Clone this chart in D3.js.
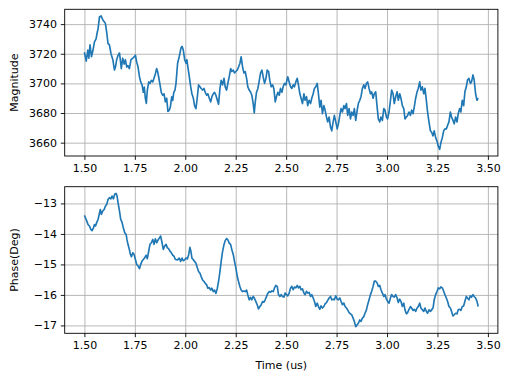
<!DOCTYPE html>
<html>
<head>
<meta charset="utf-8">
<script src="https://cdn.jsdelivr.net/npm/d3@7"></script>
<style>
  body { margin: 0; background: #fff; }
  svg { display: block; font-family: "DejaVu Sans", sans-serif; }
</style>
</head>
<body>
<svg width="520" height="378"></svg>
<script>
// values
const timeMagEarly = [1.500,1.509,1.517,1.522,1.528,1.535,1.542,1.550,1.558,1.563,1.568,1.575,1.583,1.591,1.599,1.604,1.611,1.617,1.624,1.632,1.641,1.649,1.654,1.660,1.667,1.674,1.678,1.683,1.690,1.697,1.703,1.710,1.716,1.723,1.731,1.740,1.748,1.753,1.759,1.766,1.773,1.779,1.786,1.792,1.797,1.802,1.807,1.812,1.819,1.825,1.832,1.839,1.845,1.852,1.858,1.863,1.868,1.875,1.881,1.888,1.895,1.901,1.908,1.914,1.921,1.926,1.933,1.938,1.943,1.949,1.954,
  1.962,1.970,1.979,1.984,1.990,1.997,2.004,2.008,2.013,2.020,2.027,2.033,2.040,2.046,2.053,2.060,2.066,2.073,2.079,2.086,2.093,2.099,2.106,2.112,2.119,2.126,2.132,2.139,2.145,2.152,2.159,2.165,2.172,2.178,2.185,2.192,2.198,2.205,2.211,2.218,2.225,2.231,2.238,2.244,2.251,2.258,2.264,2.271,2.277,2.284,2.291,2.297,2.304,2.310,2.317,2.324,2.330,2.337,2.342,2.347,2.353,2.360,2.367,2.373,2.380,2.386,2.393,2.400,2.406,2.413,2.419,2.426,2.433,2.439,2.446,2.452,2.459,2.466,2.472,2.479,2.485,2.492,2.499];

const timePhaseEarly = [1.500,1.505,1.512,1.518,1.525,1.532,1.538,1.545,1.550,1.555,1.561,1.568,1.575,1.579,1.584,1.591,1.598,1.604,1.611,1.617,1.624,1.631,1.637,1.644,1.650,1.657,1.662,1.667,1.674,1.680,1.687,1.693,1.700,1.707,1.711,1.716,1.723,1.728,1.733,1.740,1.746,1.753,1.759,1.766,1.773,1.779,1.786,1.792,1.799,1.806,1.812,1.819,1.825,1.832,1.839,1.845,1.852,1.858,1.865,1.872,1.878,1.885,1.891,1.898,1.905,1.911,1.918,1.924,1.931,1.938,1.944,1.951,
  1.962,1.970,1.977,1.984,1.990,1.997,2.004,2.010,2.017,2.023,2.028,2.033,2.040,2.046,2.053,2.060,2.066,2.073,2.079,2.086,2.093,2.099,2.106,2.112,2.119,2.126,2.132,2.139,2.145,2.152,2.159,2.165,2.172,2.178,2.185,2.192,2.198,2.205,2.211,2.218,2.225,2.231,2.238,2.244,2.251,2.258,2.264,2.271,2.277,2.284,2.291,2.297,2.304,2.310,2.317,2.324,2.330,2.337,2.343,2.350,2.357,2.363,2.370,2.376,2.383,2.390,2.396,2.403,2.409,2.416,2.423,2.429,2.436,2.442,
  2.449,2.456,2.462,2.469,2.475,2.482,2.489,2.495];

// shared sample times for the second half of both traces
const timeLate1 = [2.502,2.508,2.515,2.522,2.528,2.535,2.541,2.548,2.555,2.561,2.568,2.574,2.581,2.588,2.594,2.601,2.607,2.614,2.621,2.627,2.634,2.640,2.647,2.654,2.660,2.667,2.673,2.680,2.687,2.693,2.700,2.706,2.713,2.720,2.726,2.733,2.739,2.746,2.753,2.759,2.766,2.772,2.779,2.786,2.792,2.799,2.805,2.812,2.819,2.825,2.832,2.838,2.845,2.852,2.858,2.865,2.871,2.878,2.885,2.891,2.898,2.904,2.911,2.918,2.924,2.931,2.937];
const timeLate2 = [2.944,2.951,2.957,2.964,2.970,2.977,2.984,2.990,2.997,3.003,3.010,3.017,3.023,3.030,3.036,3.043,3.050,3.056,3.063,3.069,3.076,3.083,3.089,3.096,3.102,3.109,3.116,3.122,3.129,3.135,3.142,3.149,3.155,3.162,3.168,3.175,3.182,3.188,3.195,3.201,3.208,3.215,3.221,3.228,3.234,3.241,3.248,3.254,3.261,3.267,3.274,3.281,3.287,3.294,3.300,3.307,3.314,3.320,3.327,3.333,3.340,3.347,3.353,3.360,3.366,3.373,3.380,3.386,3.393,3.399,3.406,3.413,3.419,3.426,3.432,3.439,3.446,3.452];

const magnitude = [3721,3715,3722.5,3717,3726,3718,3722,3728,3730,3734,3737,3745,3745.5,3743,3741.5,3740.5,3734,3727,3726,3720,3716,3709,3711,3716,3719,3720.5,3716,3710,3717,3713,3716,3711,3712,3710,3716,3717,3718,3719,3714.5,3711,3704.5,3701,3699,3694,3697.5,3690,3686.5,3695.5,3701,3700,3702,3701,3703.5,3706.5,3710,3708,3704.5,3699,3694,3692,3693,3687.5,3690,3681,3682,3684,3691,3688.5,3694,3695.5,3700,
  3713.6,3718,3724,3725,3722.7,3716,3713.6,3716,3711,3704.5,3697.7,3693,3690,3685,3683,3691,3699,3697.7,3696.6,3695.5,3696.6,3694,3692,3693,3690,3687.5,3691,3693,3694,3692,3688.6,3686,3696.6,3702,3699,3703.4,3697.7,3695.5,3700,3704.5,3710,3708,3709,3707,3708,3709,3711,3713.6,3718,3711,3707,3708,3703.4,3697.7,3695.5,3694,3692,3686,3680,3687.5,3694,3696.6,3702,3707,3709,3704.5,3700,3703.4,3709,3708,3702,3697.7,3699,3696.6,3687.5,3691,3694,3692,3696.6,3694,3697.7,3700,3699,
  3701,3704.5,3701,3697.7,3696.6,3699,3697.7,3701,3703.4,3699,3693,3690,3686.4,3693,3688.6,3691,3685,3688.6,3686.4,3690,3693,3696.6,3697.7,3700,3693,3684,3688.6,3679.6,3685,3682,3677.3,3674,3677.3,3670.5,3668,3674,3678.4,3674,3669.3,3672.7,3678.4,3683,3680.7,3685,3683,3686.4,3678.4,3683,3676,3680.7,3678.4,3683,3675,3682,3686.4,3688.6,3691,3696.6,3699,3696.6,3700,3701,3696.6,3693,3694.3,3690,3693,
  3694.3,3684,3676,3674,3677.3,3675,3683,3682,3677.3,3676,3680.7,3688.6,3695.5,3693,3686.4,3691,3694.3,3688.6,3693,3690,3685,3683,3676,3677.3,3678.4,3680.7,3678.4,3682,3679.6,3684,3690,3694.3,3696.6,3701,3695.5,3697.7,3693,3696.6,3688.6,3680.7,3674,3668,3667,3664.6,3668,3663.4,3661,3657.7,3655.5,3660,3663.4,3668,3669.3,3669.3,3671.6,3674,3680.7,3677.3,3675,3672.7,3677.3,3674,3679.6,3683,3680.7,3688.6,3685,3694.3,3697.7,3702.3,3703.4,3700,3701,3705.7,3702.3,3693,3688.6,3690];

const phase = [-13.39,-13.47,-13.58,-13.69,-13.74,-13.85,-13.89,-13.80,-13.69,-13.74,-13.63,-13.52,-13.31,-13.20,-13.36,-13.25,-13.20,-13.09,-13.03,-12.87,-12.81,-12.85,-12.76,-12.85,-12.70,-12.67,-12.76,-12.98,-13.25,-13.52,-13.63,-13.80,-13.96,-14.02,-14.18,-14.34,-14.51,-14.67,-14.75,-14.62,-14.67,-14.84,-15.00,-15.05,-15.14,-15.00,-14.89,-14.84,-14.78,-14.70,-14.81,-14.56,-14.34,-14.29,-14.18,-14.34,-14.16,-14.29,-14.20,-14.13,-14.07,-14.29,-14.51,-14.40,-14.34,-14.45,-14.49,-14.56,-14.62,-14.70,-14.73,-14.84,
  -14.85,-14.79,-14.90,-14.79,-14.88,-14.85,-14.79,-14.82,-14.68,-14.44,-14.57,-14.79,-14.85,-14.90,-14.96,-15.12,-15.23,-15.29,-15.40,-15.51,-15.56,-15.62,-15.67,-15.78,-15.76,-15.84,-15.78,-15.89,-15.84,-15.95,-15.78,-15.56,-15.23,-14.90,-14.57,-14.35,-14.22,-14.15,-14.19,-14.30,-14.35,-14.52,-14.68,-14.90,-15.12,-15.40,-15.56,-15.73,-15.84,-15.89,-15.87,-15.89,-15.84,-16.00,-16.16,-16.08,-16.16,-16.05,-16.11,-16.22,-16.33,-16.46,-16.38,-16.33,-16.22,-16.24,-16.16,-16.05,-15.95,-15.89,-15.91,-15.87,-15.89,-15.78,
  -15.69,-15.72,-15.99,-16.05,-15.99,-16.05,-16.07,-15.94,-15.99,-16.03,-15.94,-15.77,-15.72,-15.83,-15.74,-15.77,-15.69,-15.77,-15.72,-15.83,-15.80,-15.94,-15.99,-15.88,-15.94,-15.92,-16.05,-15.99,-16.10,-16.21,-16.38,-16.27,-16.38,-16.47,-16.36,-16.43,-16.38,-16.29,-16.25,-16.18,-16.10,-16.05,-16.16,-16.14,-16.16,-16.03,-16.14,-16.16,-16.10,-16.21,-16.32,-16.27,-16.38,-16.43,-16.49,-16.58,-16.62,-16.65,-16.76,-16.87,-17.04,-16.98,-16.93,-16.82,-16.87,-16.76,-16.71,-16.60,-16.49,-16.32,-16.16,-15.99,-15.88,-15.72,-15.55,
  -15.55,-15.61,-15.72,-15.69,-15.83,-15.94,-16.05,-15.99,-16.14,-16.21,-16.27,-16.10,-15.99,-16.05,-16.07,-15.99,-16.10,-16.25,-16.14,-16.21,-16.38,-16.27,-16.49,-16.62,-16.58,-16.47,-16.38,-16.43,-16.51,-16.47,-16.54,-16.43,-16.38,-16.27,-16.43,-16.49,-16.54,-16.43,-16.54,-16.60,-16.49,-16.54,-16.49,-16.43,-16.16,-15.99,-15.88,-15.77,-15.80,-15.74,-15.77,-15.88,-15.99,-16.10,-16.21,-16.38,-16.43,-16.54,-16.69,-16.65,-16.60,-16.62,-16.49,-16.47,-16.51,-16.38,-16.36,-16.21,-16.05,-16.10,-16.16,-16.03,-16.07,-15.99,-16.05,-16.10,-16.21,-16.38];

const timeTicks = [1.5, 1.75, 2.0, 2.25, 2.5, 2.75, 3.0, 3.25, 3.5];
const magTicks = [3660, 3680, 3700, 3720, 3740];
const phaseTicks = [-17, -16, -15, -14, -13];

const timeMag = timeMagEarly.concat(timeLate1, timeLate2);
const timePhase = timePhaseEarly.concat(timeLate1, timeLate2);

const svg = d3.select("svg");
const left = 64.7, right = 497.9;

// matplotlib style 5% margins
function padded(ext) {
  const m = (ext[1] - ext[0]) * 0.05;
  return [ext[0] - m, ext[1] + m];
}

const x = d3.scaleLinear().domain(padded(d3.extent(timeMag))).range([left, right]);

function drawPanel(top, bottom, times, values, yTicks, yLabel, fmt) {
  const y = d3.scaleLinear().domain(padded(d3.extent(values))).range([bottom, top]);
  const g = svg.append("g");
  const h = bottom - top, w = right - left;

  // grid
  g.append("g")
    .attr("transform", `translate(0,${bottom})`)
    .call(d3.axisBottom(x).tickValues(timeTicks).tickSize(-h).tickFormat(""))
    .call(s => s.select(".domain").remove())
    .selectAll("line").attr("stroke", "#b0b0b0").attr("stroke-width", 0.9);
  g.append("g")
    .attr("transform", `translate(${left},0)`)
    .call(d3.axisLeft(y).tickValues(yTicks).tickSize(-w).tickFormat(""))
    .call(s => s.select(".domain").remove())
    .selectAll("line").attr("stroke", "#b0b0b0").attr("stroke-width", 0.9);

  // trace
  g.append("path")
    .datum(d3.zip(times, values))
    .attr("fill", "none")
    .attr("stroke", "#1f77b4")
    .attr("stroke-width", 1.65)
    .attr("stroke-linejoin", "round")
    .attr("d", d3.line().x(d => x(d[0])).y(d => y(d[1])));

  // axes
  const xa = g.append("g")
    .attr("transform", `translate(0,${bottom})`)
    .call(d3.axisBottom(x).tickValues(timeTicks).tickFormat(d3.format(".2f"))
      .tickSize(3.9).tickPadding(3.9).tickSizeOuter(0));
  const ya = g.append("g")
    .attr("transform", `translate(${left},0)`)
    .call(d3.axisLeft(y).tickValues(yTicks).tickFormat(fmt)
      .tickSize(3.9).tickPadding(3.9).tickSizeOuter(0));
  [xa, ya].forEach(a => {
    a.select(".domain").remove();
    a.selectAll("line").attr("stroke", "#000").attr("stroke-width", 0.9);
    a.selectAll("text").attr("fill", "#000")
      .style("font-family", "DejaVu Sans").style("font-size", "11px");
  });

  // frame
  g.append("rect")
    .attr("x", left).attr("y", top).attr("width", w).attr("height", h)
    .attr("fill", "none").attr("stroke", "#000").attr("stroke-width", 0.9);

  g.append("text")
    .attr("transform", `translate(14,${(top + bottom) / 2}) rotate(-90)`)
    .attr("text-anchor", "middle")
    .attr("dy", "0.35em")
    .style("font-size", "11px")
    .text(yLabel);
}

drawPanel(9.3, 156, timeMag, magnitude, magTicks, "Magnitude", d3.format("d"));
drawPanel(186.7, 333.3, timePhase, phase, phaseTicks, "Phase(Deg)", d3.format("d"));

svg.append("text")
  .attr("x", (left + right) / 2)
  .attr("y", 368.5)
  .attr("text-anchor", "middle")
  .style("font-size", "11px")
  .text("Time (us)");
</script>
</body>
</html>
